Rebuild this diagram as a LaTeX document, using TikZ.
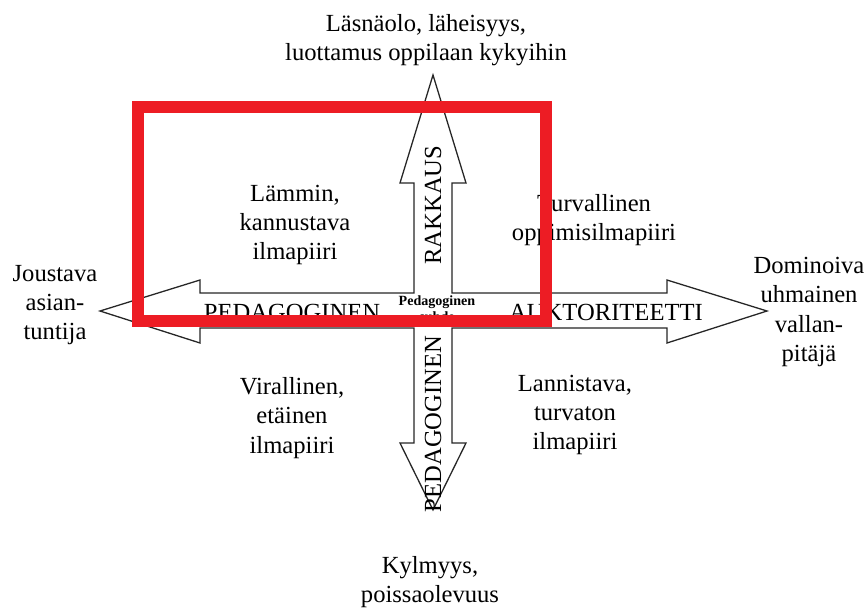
\documentclass[tikz,border=0pt]{standalone}
\usepackage{fontspec}
\setmainfont{Liberation Serif}
\usepackage{xcolor}
\usepackage{tikz}
\usetikzlibrary{calc}

\definecolor{framered}{RGB}{237,28,36}

\begin{document}
\begin{tikzpicture}[
  x=0.03cm, y=-0.03cm,
  lbl/.style={align=center,font=\fontsize{21}{25}\selectfont,inner sep=0pt},
  axistext/.style={font=\fontsize{21}{24}\selectfont,inner sep=0pt},
  centre/.style={align=center,font=\fontsize{12}{14}\selectfont\bfseries,inner sep=0pt},
  blockarrow/.style={draw=black!85,line width=1.1pt,line join=miter,fill=white},
  frame/.style={draw=framered,line width=11pt},
]
\useasboundingbox (0,0) rectangle (867,610);

% the two crossing block arrows as one outline
\draw[blockarrow] (100,311) -- (200,280) -- (200,293) -- (414,293) -- (414,183)
  -- (400,183) -- (433,75) -- (466,183) -- (452,183) -- (452,293) -- (667,293)
  -- (667,280) -- (767,311) -- (667,343) -- (667,328) -- (452,328) -- (452,443)
  -- (466,443) -- (433,510) -- (400,443) -- (414,443) -- (414,328) -- (200,328)
  -- (200,343) -- cycle;

% texts on the arrows
\node[axistext] (pedleft) at (292,312) {PEDAGOGINEN};
\node[axistext] (auk)     at (606,312) {AUKTORITEETTI};
\node[axistext,rotate=90] (rak)  at (433,205) {RAKKAUS};
\node[axistext,rotate=90] (peddown) at (433,424) {PEDAGOGINEN};
\node[centre] (ped) at (437,309) {Pedagoginen\\suhde};

% poles
\node[lbl] (top)    at (426,40)  {Läsnäolo, läheisyys,\\luottamus oppilaan kykyihin};
\node[lbl] (bottom) at (430,582) {Kylmyys,\\poissaolevuus};
\node[lbl] (left)   at (55,305)  {Joustava\\asian-\\tuntija};
\node[lbl] (right)  at (809,312) {Dominoiva\\uhmainen\\vallan-\\pitäjä};

% quadrants
\node[lbl] (q1) at (295,225) {Lämmin,\\kannustava\\ilmapiiri};
\node[lbl] (q2) at (594,220) {Turvallinen\\oppimisilmapiiri};
\node[lbl] (q3) at (292,418) {Virallinen,\\etäinen\\ilmapiiri};
\node[lbl] (q4) at (575,415) {Lannistava,\\turvaton\\ilmapiiri};

% highlight
\draw[frame] (138,107) rectangle (546,321);
\end{tikzpicture}
\end{document}
